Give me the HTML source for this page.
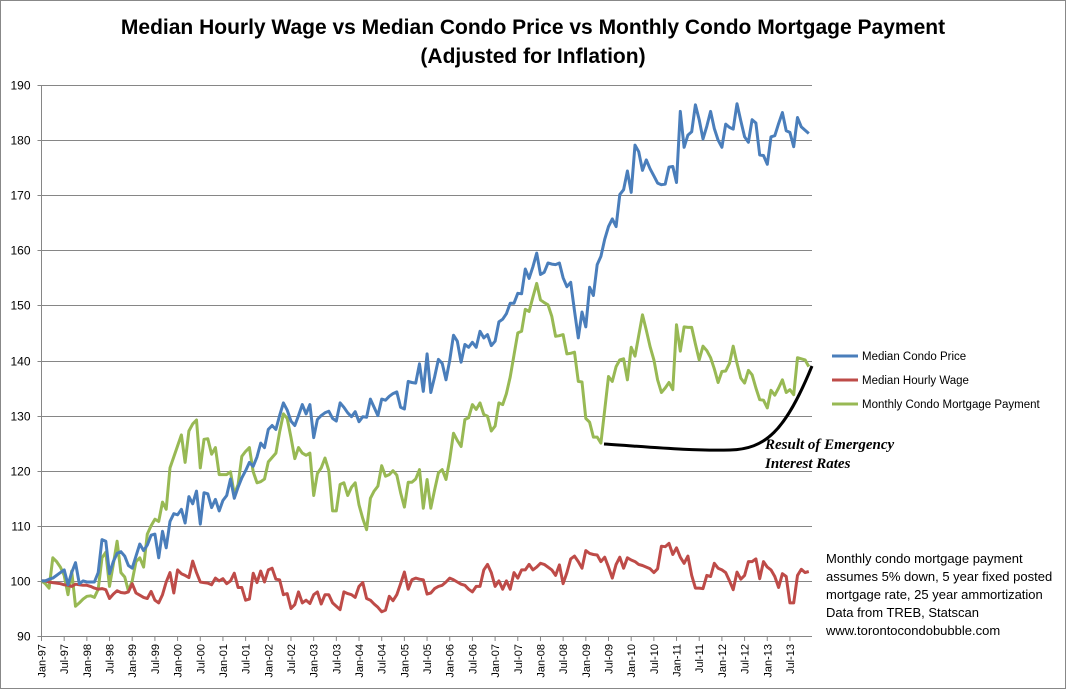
<!DOCTYPE html>
<html><head><meta charset="utf-8"><style>
html,body{margin:0;padding:0;background:#fff}
svg{display:block;font-family:"Liberation Sans",sans-serif}
</style></head><body>
<svg id="chart" width="1067" height="690" viewBox="0 0 1067 690">
<rect x="0.5" y="0.5" width="1065" height="688" fill="#fff" stroke="#888"/>
<text x="533" y="34" text-anchor="middle" font-size="21" font-weight="bold" fill="#000">Median Hourly Wage vs Median Condo Price vs Monthly Condo Mortgage Payment</text>
<text x="533" y="63" text-anchor="middle" font-size="21" font-weight="bold" fill="#000">(Adjusted for Inflation)</text>
<g id="grid"></g><g id="yaxis"></g><g id="xaxis"></g><g id="series"></g>
<path d="M604,444 C650,447 690,451 730,450 C765,449 785,432 812,366" fill="none" stroke="#000" stroke-width="3"/>
<text x="765" y="449" font-family="Liberation Serif,serif" font-size="15" font-weight="bold" font-style="italic">Result of Emergency</text>
<text x="765" y="468" font-family="Liberation Serif,serif" font-size="15" font-weight="bold" font-style="italic">Interest Rates</text>
<g>
<line x1="832" y1="356" x2="858" y2="356" stroke="#4a7ebb" stroke-width="3"/>
<text x="862" y="360" font-size="11.5">Median Condo Price</text>
<line x1="832" y1="380" x2="858" y2="380" stroke="#be4b48" stroke-width="3"/>
<text x="862" y="384" font-size="11.5">Median Hourly Wage</text>
<line x1="832" y1="404" x2="858" y2="404" stroke="#98b954" stroke-width="3"/>
<text x="862" y="408" font-size="11.5">Monthly Condo Mortgage Payment</text>
</g>
<g font-size="13" fill="#000">
<text x="826" y="563">Monthly condo mortgage payment</text>
<text x="826" y="581">assumes 5% down, 5 year fixed posted</text>
<text x="826" y="599">mortgage rate, 25 year ammortization</text>
<text x="826" y="617">Data from TREB, Statscan</text>
<text x="826" y="635">www.torontocondobubble.com</text>
</g>
</svg>
<script>
const yTicks=[90,100,110,120,130,140,150,160,170,180,190];
const months=["Jan","Feb","Mar","Apr","May","Jun","Jul","Aug","Sep","Oct","Nov","Dec"];
const startYear=1997;
const condoPrice=[
100,100,100.3,100.5,101,101.5,102,99.3,101.5,103.3,99.5,100,
99.8,99.8,99.8,101.5,107.5,107.2,101.3,103.5,105,105.3,104.5,102.8,
102.3,104.5,106.7,105.5,106.5,108.3,108.5,104.2,109,106,110.8,112.2,
112,113,110.5,115.3,114,116.3,110.3,116,115.8,113.3,114.8,112.7,
114.6,115.5,118.5,115,117,118.7,120,121.5,120.8,122.5,125,124.2,
127.5,128.2,127.5,130,132.3,131,129,128.2,130,132,130.3,132,
126,129.3,130,130.5,130.8,129.5,129,132.3,131.5,130.5,129.8,130.7,
128.9,129.8,129.7,133,131.5,130,133,132.8,133.5,134,134.3,131.5,
131.2,136.2,136,135.9,139.4,134.4,141.2,134.2,137,140.2,139.5,136.5,
140,144.6,143.5,139.7,142.9,142.4,143.3,142.4,145.3,144.1,144.7,142.7,
143.5,147,147.5,148.5,150.4,150.4,152.2,152.1,156.6,154.9,157,159.5,
155.6,156,157.7,157.5,157.4,157.7,155,153.4,154.2,149,144.1,148.8,
146.1,153.3,151.8,157.4,158.9,162,164.3,165.7,164.3,170.1,171,174.4,
170.5,179.1,177.9,174.5,176.4,174.8,173.5,172.2,171.9,172,175.1,175.2,
172.3,185.2,178.7,180.9,181.5,186.4,183.7,180.2,182.5,185.2,182.1,180,
178.7,182.9,182.3,182,186.6,183.5,180.6,179.6,183.7,183.1,177.3,177.2,
175.6,180.6,180.8,183,185,181.7,181.4,178.8,184.1,182.4,181.8,181.2];
const hourlyWage=[
100,100,99.8,99.7,99.6,99.5,99.3,99.2,99.0,99.4,99.3,99.2,
99.2,99.0,98.7,98.5,98.6,98.4,96.8,97.6,98.2,97.9,97.8,98.0,
99.5,97.8,97.4,97.0,96.8,98.1,96.5,96.0,97.5,99.8,101.5,97.8,
102,101.3,101,100.6,103.6,101.5,99.8,99.7,99.6,99.3,100.5,100.0,
100.4,99.5,100,101.4,98.8,98.8,96.5,96.7,101.4,99.7,101.8,99.8,
102,102.3,100.3,100.2,97.5,97.7,95,95.7,98,96,96.5,95.9,
97.5,98,95.8,97.5,97.5,96,95.4,94.8,98,97.7,97.5,97,
99,99.7,96.8,96.5,95.8,95.2,94.4,94.7,97.2,96.4,97.5,99.5,
101.6,98.5,100.2,100.5,100.3,100.2,97.6,97.8,98.6,99,99.2,99.8,
100.5,100.2,99.8,99.4,99.2,98.5,98,99,99,102,103,101.5,
99,100,98.5,100,98.5,101.5,100.5,102,102,103,102,102.5,
103.2,103,102.5,102,101,102.9,99.5,101.5,104,104.5,103.5,102.3,
105.5,105,104.8,104.7,103.5,104.3,102.5,100.5,103,104.3,102.3,104.2,
103.8,103.5,103,102.8,102.5,102.2,101.5,102.2,106.3,106.2,106.8,104.8,
106,104.3,103.2,104.5,101,98.7,98.7,98.6,101,100.8,103.2,102.3,
102,101.5,100,98.4,101.6,100.3,101,103.5,103.5,104,100.4,103.5,
102.5,102,100.8,98.8,101.3,100.8,96,96,101,102.1,101.5,101.7];
const mortgagePayment=[
100,99.5,98.7,104.2,103.5,102.5,101,97.5,101.8,95.4,96,96.7,
97.2,97.3,97,98.5,104.2,105.2,99,103,107.2,101.5,100.7,98.2,
100,103.5,104.2,102.5,108.5,110,111.2,110.8,114.3,113,120.5,122.5,
124.5,126.5,121.5,127.2,128.5,129.2,120.5,125.7,125.8,123,124.2,119.3,
119.3,119.3,119.8,115.7,117.5,122.6,123.5,124.2,119.8,117.8,118,118.5,
121.6,122.4,123.2,127,130.3,129.5,126,122.2,124.2,123.2,122.8,123.2,
115.5,119.5,120.5,122.3,120,112.7,112.7,117.5,117.8,115.5,117,117.8,
113.8,111.3,109.3,115,116.3,117.2,120.9,119,119.3,120,119.2,116,
113.4,117.9,117.9,118.5,120.2,113.2,118.4,113.2,116.5,119.6,120.2,118.4,
122,126.8,125.5,124.4,129.3,129.6,132,131.1,132.3,130.2,129.9,127.2,
128.1,132.3,132,134,137,141,145,145.3,149.3,148.9,151.5,154,
151,150.5,150.1,148,144.4,144.5,144.7,141.2,141.3,141.5,136.2,136.1,
129.5,128.8,126.1,126.1,125,131,137.1,136.2,138.9,140.1,140.3,136.5,
142.4,140.8,144.5,148.3,145.5,142.5,140.1,136.5,134.2,135,136,134.7,
146.5,141.7,146.1,146,146,143,140.1,142.6,141.8,140.5,138.5,136,
138,138.1,139.5,142.6,139.5,136.8,135.9,138.2,137.4,135,132.9,132.8,
131.4,134.6,133.7,135,136.5,134.2,134.7,133.8,140.5,140.3,140.1,138.9];

const NS="http://www.w3.org/2000/svg";
const L=41.5,R=812,T=85,B=636,YMIN=90,YMAX=190,MONTHS=204,STEP=3.78;
function yScale(v){return B-(v-YMIN)/(YMAX-YMIN)*(B-T);}
function xScale(i){return L+i*STEP;}
function mk(tag,attrs,parent){const e=document.createElementNS(NS,tag);for(const k in attrs)e.setAttribute(k,attrs[k]);parent.appendChild(e);return e;}
const grid=document.getElementById('grid'),yax=document.getElementById('yaxis'),xax=document.getElementById('xaxis'),ser=document.getElementById('series');
yTicks.forEach(v=>{
  const y=Math.round(yScale(v))+0.5;
  const gl=mk('line',{x1:L,x2:R,y1:y,y2:y,stroke:'#868686','stroke-width':1},grid);
  
  
  const tk=mk('line',{x1:L-4,x2:L,y1:y,y2:y,stroke:'#868686'},yax);
  
  
  const t=mk('text',{x:L-11,y:y+4,'text-anchor':'end','font-size':12,fill:'#000'},yax);
  t.textContent=v;
  
  
});
const ax=mk('line',{x1:L,x2:L,y1:T,y2:B,stroke:'#868686'},yax);


for(let i=0;i<MONTHS;i+=6){
  const x=xScale(i);
  const tk=mk('line',{x1:x,x2:x,y1:B,y2:B+5,stroke:'#868686'},xax);
  
  
  const yr=String((startYear+Math.floor(i/12))%100).padStart(2,'0');
  const lab=months[i%12]+'-'+yr;
  const t=mk('text',{x:0,y:0,'text-anchor':'end','font-size':11,fill:'#000',transform:`translate(${x+4},${B+8}) rotate(-90)`},xax);
  t.textContent=lab;
  
  
}
function drawSeries(vals,color,name){
  const d=vals.map((v,i)=>(i?'L':'M')+xScale(i).toFixed(1)+','+yScale(v).toFixed(1)).join(' ');
  const p=mk('path',{d:d,fill:'none',stroke:color,'stroke-width':3,'stroke-linejoin':'round'},ser);
  
  
}
drawSeries(mortgagePayment,'#98b954','series-mortgage-payment');
drawSeries(hourlyWage,'#be4b48','series-hourly-wage');
drawSeries(condoPrice,'#4a7ebb','series-condo-price');
</script>
</body></html>
